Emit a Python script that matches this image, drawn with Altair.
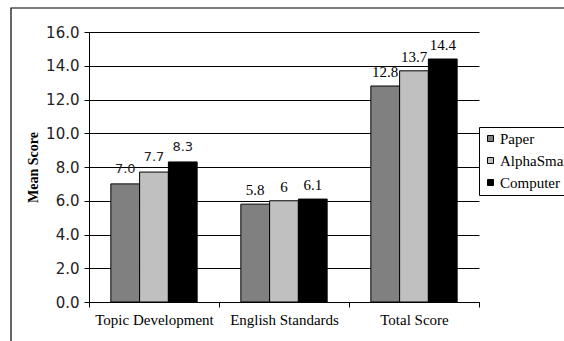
import altair as alt
import pandas as pd

categories = ["Topic Development", "English Standards", "Total Score"]
series = ["Paper", "AlphaSmart", "Computer"]
paper = [7.0, 5.8, 12.8]
alphasmart = [7.7, 6.0, 13.7]
computer = [8.3, 6.1, 14.4]
paper_labels = ["7.0", "5.8", "12.8"]
alphasmart_labels = ["7.7", "6", "13.7"]
computer_labels = ["8.3", "6.1", "14.4"]
y_ticks = [0, 2, 4, 6, 8, 10, 12, 14, 16]
colors = ["#808080", "#c0c0c0", "#000000"]

rows = []
for vals, labs, name in [(paper, paper_labels, "Paper"),
                         (alphasmart, alphasmart_labels, "AlphaSmart"),
                         (computer, computer_labels, "Computer")]:
    for cat, v, lab in zip(categories, vals, labs):
        rows.append({"category": cat, "series": name, "score": v, "label": lab})
df = pd.DataFrame(rows)

SERIF = "Liberation Serif"
SANS = "DejaVu Sans"

x_enc = alt.X(
    "category:N",
    sort=categories,
    scale=alt.Scale(paddingInner=0, paddingOuter=0),
    axis=alt.Axis(
        title=None, labelAngle=0, tickBand="extent", tickSize=5,
        labelFont=SERIF, labelFontSize=15, labelColor="#000000",
        labelPadding=5, domainColor="#000000", tickColor="#000000",
    ),
)
off_enc = alt.XOffset("series:N", sort=series,
                      scale=alt.Scale(paddingOuter=0.76, paddingInner=0))
y_enc = alt.Y(
    "score:Q",
    scale=alt.Scale(domain=[0, 16], nice=False),
    axis=alt.Axis(
        title="Mean Score", values=y_ticks, format=".1f", labelOverlap=False,
        titleFont=SERIF, titleFontSize=14, titleFontWeight="bold",
        titleColor="#000000", titlePadding=5,
        labelFont=SANS, labelFontSize=15, labelColor="#222222", labelPadding=5,
        tickSize=5, tickColor="#000000", domainColor="#000000",
        grid=True, gridColor="#000000", gridWidth=1, gridOpacity=1,
    ),
)

# outer chart frame
frame = alt.Chart(pd.DataFrame({"f": [0]})).mark_rect(
    fill=None, stroke="#000000", strokeWidth=1.2, clip=False
).encode(
    x=alt.value(-78), x2=alt.value(700), y=alt.value(-24), y2=alt.value(500)
)

bars = alt.Chart(df).mark_bar(stroke="#000000", strokeWidth=1).encode(
    x=x_enc,
    xOffset=off_enc,
    y=y_enc,
    color=alt.Color(
        "series:N", sort=series,
        scale=alt.Scale(domain=series, range=colors),
        legend=alt.Legend(
            title=None, orient="none", legendX=390, legendY=95,
            symbolType="square", symbolSize=36, symbolStrokeColor="#000000",
            symbolStrokeWidth=1, labelFont=SERIF, labelFontSize=15,
            labelColor="#000000", rowPadding=6, padding=4,
            strokeColor="#000000", fillColor="#ffffff", symbolOffset=0,
            labelOffset=2,
        ),
    ),
)

labels_sans = alt.Chart(df).transform_filter(
    alt.datum.category == "Topic Development"
).mark_text(baseline="bottom", dy=-8, font=SANS, fontSize=13, color="#222222").encode(
    x=x_enc, xOffset=off_enc, y=y_enc, text="label:N",
)
labels_serif = alt.Chart(df).transform_filter(
    alt.datum.category != "Topic Development"
).mark_text(baseline="bottom", dy=-6, font=SERIF, fontSize=15, color="#000000").encode(
    x=x_enc, xOffset=off_enc, y=y_enc, text="label:N",
)

chart = alt.layer(frame, bars, labels_sans, labels_serif).properties(
    width=390, height=270,
    autosize=alt.AutoSizeParams(type="none"),
    padding={"left": 89, "top": 32, "right": 85, "bottom": 39},
    background="#ffffff",
).configure_view(stroke=None)

chart.save("out.html", embed_options={"renderer": "svg", "actions": False})
